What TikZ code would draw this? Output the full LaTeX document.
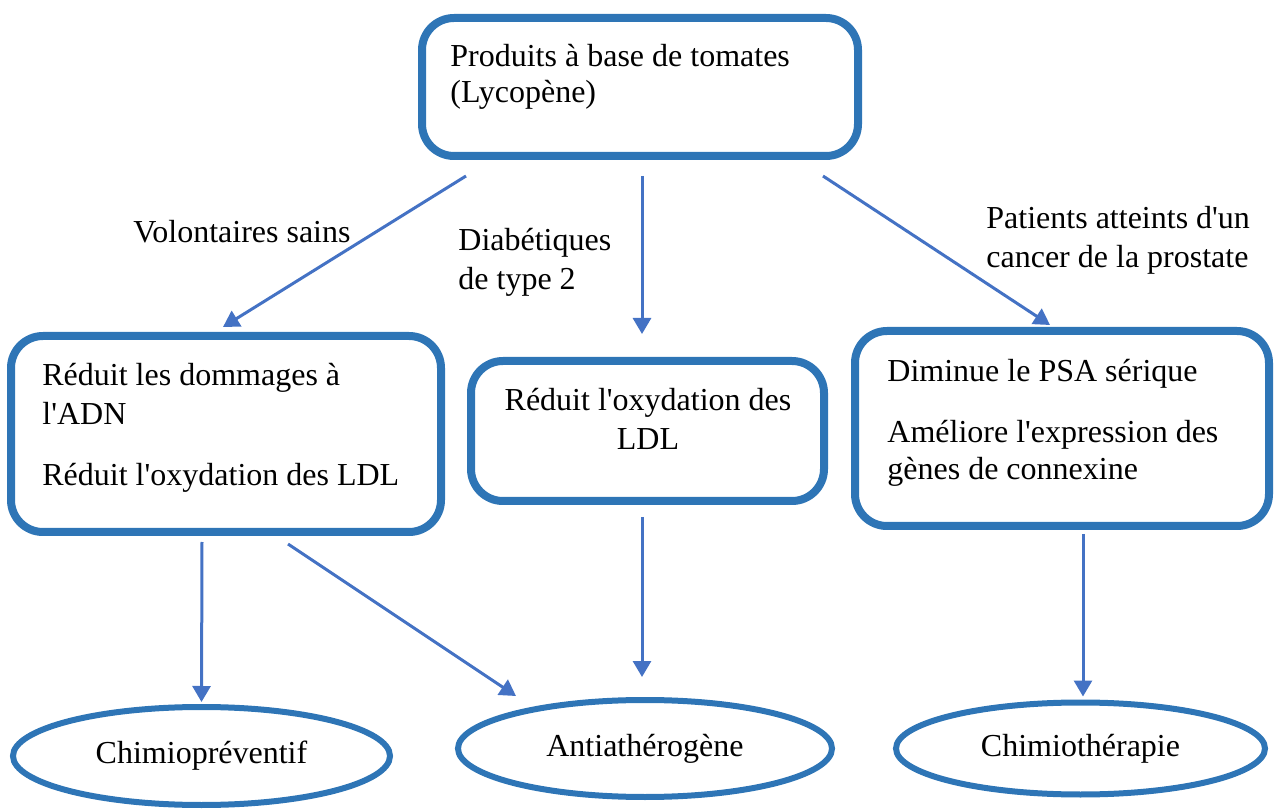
\documentclass[tikz,border=0pt]{standalone}
\usepackage{fontspec}
\setmainfont{Liberation Serif}[Ligatures=TeXOff]
\usepackage{xcolor}
\usetikzlibrary{shapes.geometric, arrows.meta, positioning}

\definecolor{boxblue}{HTML}{2E75B6}
\definecolor{linkblue}{HTML}{4472C4}

\tikzset{
	box/.style = {draw=boxblue, line width=4pt, rounded corners=16pt, inner sep=0pt},
	oval/.style = {ellipse, draw=boxblue, line width=3pt, inner sep=0pt, font=\fontsize{16}{19.5}\selectfont},
	txt/.style = {inner sep=0pt, align=left, font=\fontsize{16}{19.5}\selectfont},
	link/.style = {draw=linkblue, line width=1.5pt, -{Triangle[length=8pt, width=9pt]}}
}

\begin{document}
\begin{tikzpicture}[x=0.5pt, y=-0.5pt]
		\useasboundingbox (0,0) rectangle (1275,812);
		
		% boxes
		\node[box, minimum width=218pt, minimum height=69pt] (top) at (640,87) {};
		\node[box, minimum width=215pt, minimum height=98pt] (left) at (226,434) {};
		\node[box, minimum width=176.5pt, minimum height=70pt] (mid) at (647.5,431) {};
		\node[box, minimum width=207pt, minimum height=97.5pt] (right) at (1062,428.5) {};
		
		% texts, placed by their last line
		\node[txt, anchor=base west] (toptext) at (450,103) {Produits à base de tomates\\[-1.5pt](Lycopène)};
		\node[txt, anchor=base west] (lefttext) at (42,486) {Réduit les dommages à\\l'ADN\\[11pt]Réduit l'oxydation des LDL};
		\node[txt, align=center, anchor=base] (midtext) at (648,450) {Réduit l'oxydation des\\LDL};
		\node[txt, anchor=base west] (righttext) at (887,480) {Diminue le PSA sérique\\[11pt]Améliore l'expression des\\[-1pt]gènes de connexine};
		
		% outcomes
		\node[oval, minimum width=188.5pt, minimum height=49pt] (chemo) at (201.5,756) {Chimiopréventif};
		\node[oval, minimum width=187pt, minimum height=48.5pt] (anti) at (645,748.5) {Antiathérogène};
		\node[oval, minimum width=184.5pt, minimum height=46pt] (therapy) at (1080.5,748.5) {Chimiothérapie};
		
		% groups
		\node[txt, anchor=base west] (healthy) at (133,243) {Volontaires sains};
		\node[txt, anchor=base west] (diabetic) at (458,290) {Diabétiques\\de type 2};
		\node[txt, anchor=base west] (patients) at (986,268) {Patients atteints d'un\\cancer de la prostate};
		
		\begin{scope}[link]
			\draw ([shift={(-87pt,-8pt)}]top.south) -- ([shift={(-1.5pt,2.5pt)}]left.north);
			\draw ([shift={(1pt,-8pt)}]top.south) -- ([shift={(-2.75pt,11.5pt)}]mid.north);
			\draw ([shift={(91.5pt,-8pt)}]top.south) -- ([shift={(-6pt,1pt)}]right.north);
			
			\draw ([shift={(-12pt,-3pt)}]left.south) -- ([shift={(0pt,1pt)}]chemo.north);
			\draw ([shift={(31pt,-4pt)}]left.south) -- ([shift={(-64.5pt,0.5pt)}]anti.north);
			\draw ([shift={(-2.75pt,-6pt)}]mid.south) -- ([shift={(-1.5pt,10pt)}]anti.north);
			\draw ([shift={(10.5pt,-2pt)}]right.south) -- ([shift={(1.25pt,1.5pt)}]therapy.north);
		\end{scope}
	\end{tikzpicture}
\end{document}
